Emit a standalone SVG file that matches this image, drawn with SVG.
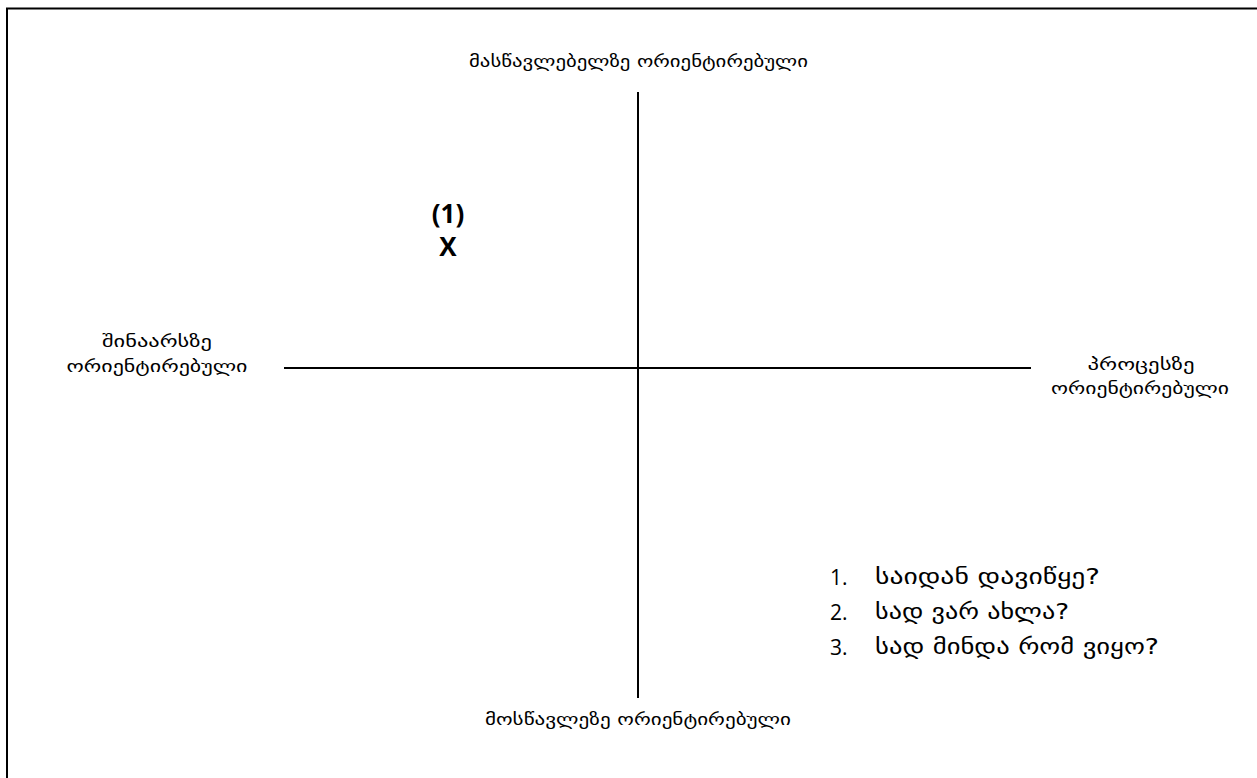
<svg xmlns="http://www.w3.org/2000/svg" width="1257" height="778" viewBox="0 0 1257 778">
<style>
.lbl{font-family:"DejaVu Sans","Noto Sans",sans-serif;font-size:17px;fill:#000;text-anchor:middle}
.big{font-family:"Open Sans","Liberation Sans",sans-serif;font-size:26px;font-weight:bold;fill:#000;text-anchor:middle}
.lst{font-family:"DejaVu Sans","Noto Sans",sans-serif;font-size:21px;fill:#000}
.num{font-family:"Open Sans","Liberation Sans",sans-serif;font-size:21px;fill:#000}
.ax{stroke:#000;stroke-width:2;fill:none}
</style>
<rect width="1257" height="778" fill="#fff"/>
<rect x="7" y="8.5" width="1270" height="790" fill="none" stroke="#000" stroke-width="2"/>
<g id="connectors">
<line class="ax" x1="638" y1="92" x2="638" y2="698"/>
<line class="ax" x1="284" y1="368" x2="1031" y2="368"/>
</g>
<g id="top"><text class="lbl" x="638.5" y="67" textLength="339" lengthAdjust="spacingAndGlyphs">მასწავლებელზე ორიენტირებული</text></g>
<g id="bottom"><text class="lbl" x="638" y="725" textLength="306" lengthAdjust="spacingAndGlyphs">მოსწავლეზე ორიენტირებული</text></g>
<g id="left"><text class="lbl" x="157" y="347" textLength="110" lengthAdjust="spacingAndGlyphs">შინაარსზე</text><text class="lbl" x="157" y="372" textLength="181" lengthAdjust="spacingAndGlyphs">ორიენტირებული</text></g>
<g id="right"><text class="lbl" x="1141" y="370" textLength="107" lengthAdjust="spacingAndGlyphs">პროცესზე</text><text class="lbl" x="1140" y="394" textLength="178" lengthAdjust="spacingAndGlyphs">ორიენტირებული</text></g>
<g id="marker"><text class="big" x="448" y="223">(1)</text><text class="big" x="448" y="256">X</text></g>
<g id="list">
<text class="num" x="830" y="585">1.</text><text class="lst" x="875" y="584" textLength="225" lengthAdjust="spacingAndGlyphs">საიდან დავიწყე?</text>
<text class="num" x="830" y="620">2.</text><text class="lst" x="875" y="619" textLength="194" lengthAdjust="spacingAndGlyphs">სად ვარ ახლა?</text>
<text class="num" x="830" y="655">3.</text><text class="lst" x="875" y="654" textLength="284" lengthAdjust="spacingAndGlyphs">სად მინდა რომ ვიყო?</text>
</g>
</svg>
